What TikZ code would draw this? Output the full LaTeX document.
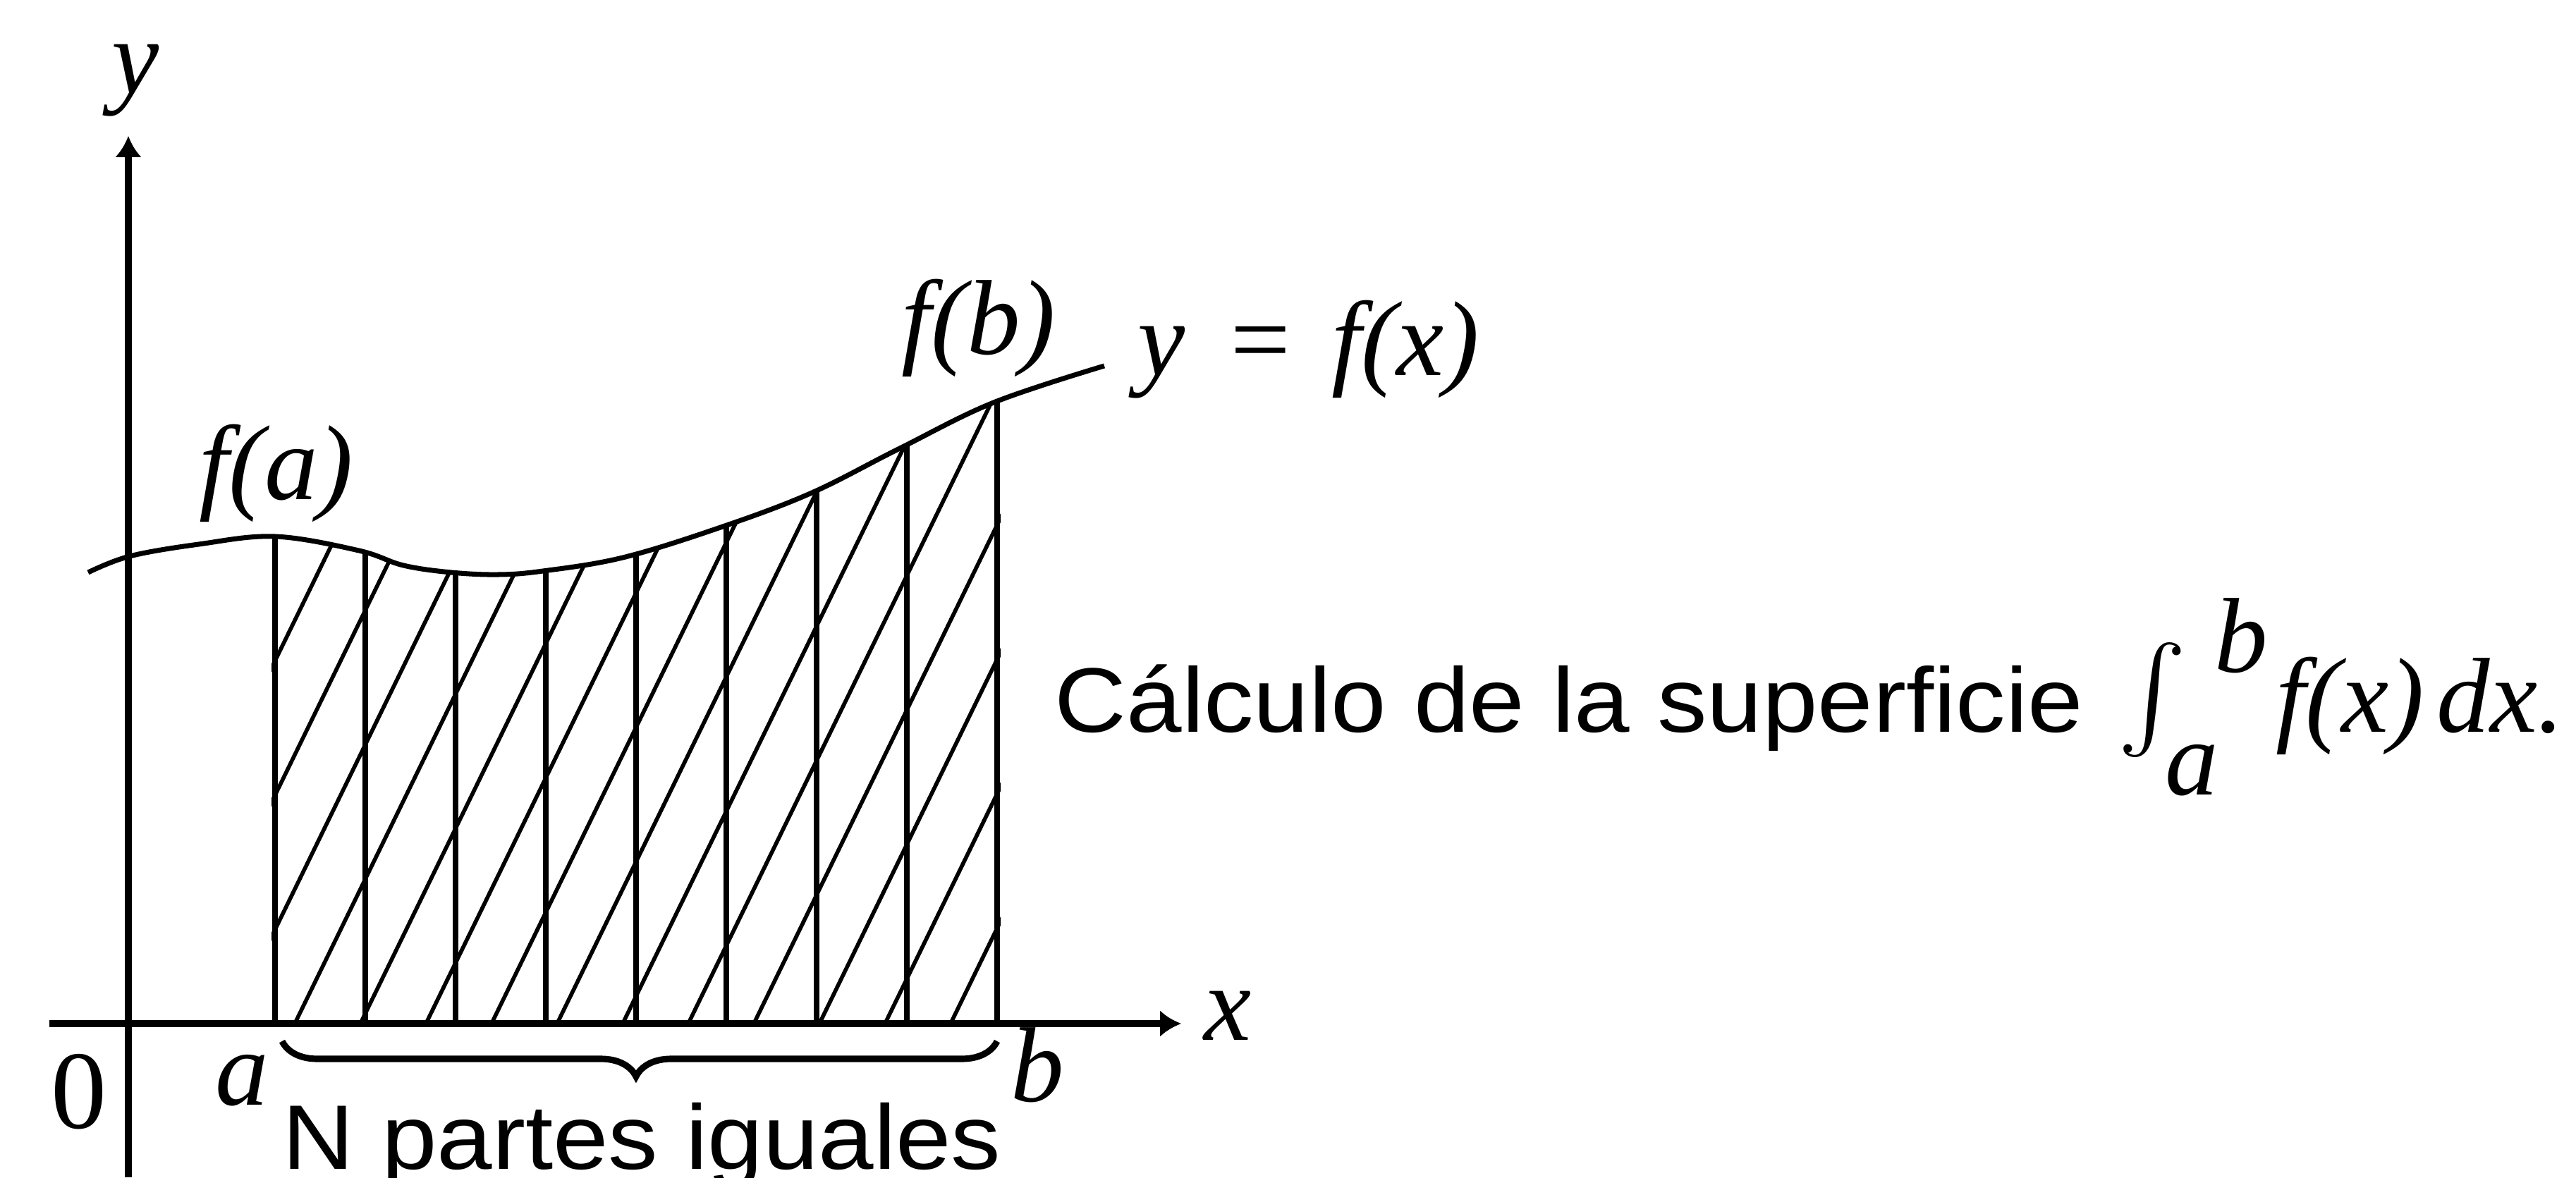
\documentclass[tikz,border=0pt]{standalone}
\usepackage{amsmath}
\usepackage{fontspec}
\usepackage{tikz}
\usetikzlibrary{arrows.meta,decorations.pathreplacing}
\newfontfamily\capfont{Liberation Sans}
\newfontfamily\eqfont{Liberation Serif}
\tikzset{
  axis/.style={line width=2.6pt},
  graph/.style={line width=2pt},
  strip/.style={line width=2.4pt},
  hatch/.style={line width=1.6pt},
  eqlbl/.style={inner sep=0pt, font=\fontsize{43}{50}\selectfont\eqfont\itshape},
  txtlbl/.style={inner sep=0pt, font=\fontsize{37}{44}\selectfont\capfont}
}
\newcommand{\curvepath}{plot[smooth, tension=0.6] coordinates {(-0.57,6.40) (0.02,6.63) (1.0,6.80) (2.08,6.91) (3.27,6.71) (3.9,6.50) (4.58,6.40) (5.25,6.37) (5.88,6.42) (7.01,6.61) (8.37,7.03) (9.67,7.52) (10.92,8.15) (12.27,8.81) (13.84,9.33)}}

\begin{document}
\begin{tikzpicture}[>={Latex[length=0.3cm,width=0.38cm]}]
\useasboundingbox (-1.82,-2.18) rectangle (34.71,14.52);
% strips under the curve
\begin{scope}
\clip (2.03,0) rectangle (12.37,10);
\clip \curvepath -- (13.84,0) -- (-0.57,0) -- cycle;
\foreach \k in {-4,...,10}
  \draw[hatch] ({2.36+0.93*\k},0) -- ++(5,10.25);
\foreach \k in {0,...,8}
  \draw[strip] ({2.08+1.28*\k},0) -- ++(0,10);
\end{scope}
% axes and curve
\draw[axis, ->] (-1.12,0) -- (14.93,0);
\draw[axis, ->] (0,-2.18) -- (0,12.59);
\draw[graph] \curvepath;
\node[eqlbl, anchor=base] (lbly) at (0.10,13.19) {y};
\node[eqlbl, anchor=base] (lblx) at (15.59,-0.23) {x};
\node[eqlbl, anchor=base, font=\fontsize{45}{50}\selectfont\eqfont] (lblzero) at (-0.70,-1.48) {0};
\node[eqlbl, anchor=base] (lbla) at (1.61,-1.15) {a};
\node[eqlbl, anchor=base] (lblb) at (12.89,-1.10) {b};
\node[eqlbl, anchor=base] (lblfa) at (2.10,7.44) {f(a)};
\node[eqlbl, anchor=base] (lblfb) at (12.06,9.49) {f(b)};
\node[eqlbl, anchor=base] (lblcurve) at (16.74,9.19) {y\hspace{0.36em}=\hspace{0.34em}f(x)};
% N equal parts
\coordinate (bracel) at (2.18,-0.25);
\coordinate (bracer) at (12.32,-0.25);
\draw[line width=2.6pt, decorate, decoration={brace, mirror, amplitude=0.5cm, aspect=0.495}] (bracel) -- (bracer);
\node[txtlbl, anchor=base] (parts) at (7.28,-2.06) {\scalebox{1.085}[1]{N partes iguales}};
% caption
\node[txtlbl, anchor=base west] (capt) at (13.13,4.14) {\scalebox{1.085}[1]{Cálculo de la superficie}};
\node[inner sep=0pt] (integ) at (28.70,4.59) {\resizebox*{!}{1.63cm}{$\int$}};
\node[eqlbl, anchor=base west] (intlow) at (28.88,3.25) {a};
\node[eqlbl, anchor=base west] (intup) at (29.58,4.99) {b};
\node[eqlbl, anchor=base west] (integrand) at (30.45,4.14) {f(x)\hspace{0.12em}dx.};
\end{tikzpicture}
\end{document}
